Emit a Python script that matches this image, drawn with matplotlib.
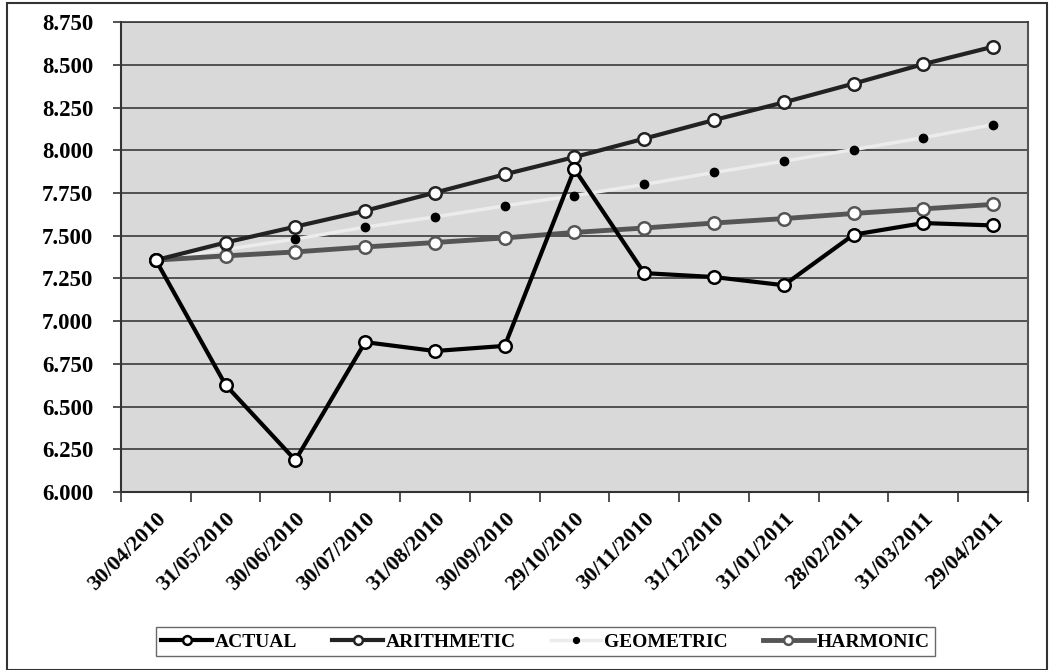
import matplotlib.pyplot as plt
from matplotlib.patches import Rectangle

dates = ['30/04/2010', '31/05/2010', '30/06/2010', '30/07/2010', '31/08/2010',
         '30/09/2010', '29/10/2010', '30/11/2010', '31/12/2010', '31/01/2011',
         '28/02/2011', '31/03/2011', '29/04/2011']

actual = [7.357, 6.626, 6.186, 6.877, 6.825, 6.855, 7.890, 7.281, 7.258,
          7.210, 7.506, 7.574, 7.560]
arithmetic = [7.357, 7.460, 7.553, 7.646, 7.752, 7.859, 7.960, 8.068, 8.177,
              8.280, 8.390, 8.504, 8.606]
geometric = [7.357, 7.420, 7.480, 7.550, 7.610, 7.675, 7.735, 7.800, 7.870,
             7.936, 8.004, 8.074, 8.150]
harmonic = [7.357, 7.382, 7.405, 7.434, 7.460, 7.487, 7.519, 7.545, 7.574,
            7.600, 7.630, 7.657, 7.683]

y_ticks = [6.0, 6.25, 6.5, 6.75, 7.0, 7.25, 7.5, 7.75, 8.0, 8.25, 8.5, 8.75]

plt.rcParams['font.family'] = ['Liberation Serif', 'DejaVu Serif']
plt.rcParams['font.weight'] = 'bold'

fig = plt.figure(figsize=(10.49, 6.70), dpi=100)
ax = fig.add_axes([0.1153, 0.2657, 0.8647, 0.7013])
ax.set_facecolor('#d9d9d9')

x = list(range(len(dates)))

ax.plot(x, geometric, color='#ececec', lw=2.5, marker='o', ms=6,
        mfc='black', mec='black', label='GEOMETRIC', zorder=3)
ax.plot(x, harmonic, color='#555555', lw=3.5, marker='o', ms=9,
        mfc='white', mec='#555555', mew=1.8, label='HARMONIC', zorder=4)
ax.plot(x, arithmetic, color='#222222', lw=3, marker='o', ms=9,
        mfc='white', mec='#222222', mew=1.8, label='ARITHMETIC', zorder=5)
ax.plot(x, actual, color='black', lw=3, marker='o', ms=9,
        mfc='white', mec='black', mew=1.8, label='ACTUAL', zorder=6)

ax.set_xlim(-0.5, len(dates) - 0.5)
ax.set_ylim(6.0, 8.75)
ax.set_yticks(y_ticks)
ax.set_yticklabels([f'{v:.3f}' for v in y_ticks], fontsize=16.5, fontweight='bold')
ax.yaxis.grid(True, color='#3a3a3a', lw=1.2)
ax.set_axisbelow(True)

ax.set_xticks([i - 0.5 for i in range(len(dates) + 1)])
ax.set_xticklabels([])
ax.set_xticks(x, minor=True)
ax.set_xticklabels(dates, minor=True, rotation=45, ha='right',
                   rotation_mode='anchor', fontsize=16, fontweight='bold')
ax.tick_params(axis='x', which='minor', length=0, pad=12)
ax.tick_params(axis='x', which='major', length=7, width=1.2, color='#333333')
ax.tick_params(axis='y', length=6, width=1.2, color='#333333', pad=14)

for s in ['left', 'bottom']:
    ax.spines[s].set_color('#333333')
    ax.spines[s].set_linewidth(1.5)
ax.spines['right'].set_color('#555555')
ax.spines['right'].set_linewidth(1.5)
ax.spines['top'].set_color('#3a3a3a')
ax.spines['top'].set_linewidth(1.2)

handles, labels = ax.get_legend_handles_labels()
order = [3, 2, 0, 1]
leg = fig.legend([handles[i] for i in order], [labels[i] for i in order],
                 loc='center', bbox_to_anchor=(0.52, 0.042), ncol=4,
                 frameon=True, fancybox=False, edgecolor='#444444',
                 prop={'weight': 'bold', 'size': 14}, handlelength=2.6,
                 handletextpad=0.15, columnspacing=1.8, borderpad=0.3,
                 borderaxespad=0, markerscale=0.7)
leg.get_frame().set_linewidth(1.0)

fig.patches.append(Rectangle((7 / 1049, 0.0), 1040 / 1049, 1 - 3 / 670,
                             transform=fig.transFigure, fill=False,
                             edgecolor='#333333', lw=1.5))

fig.savefig('out.png', dpi=100)
